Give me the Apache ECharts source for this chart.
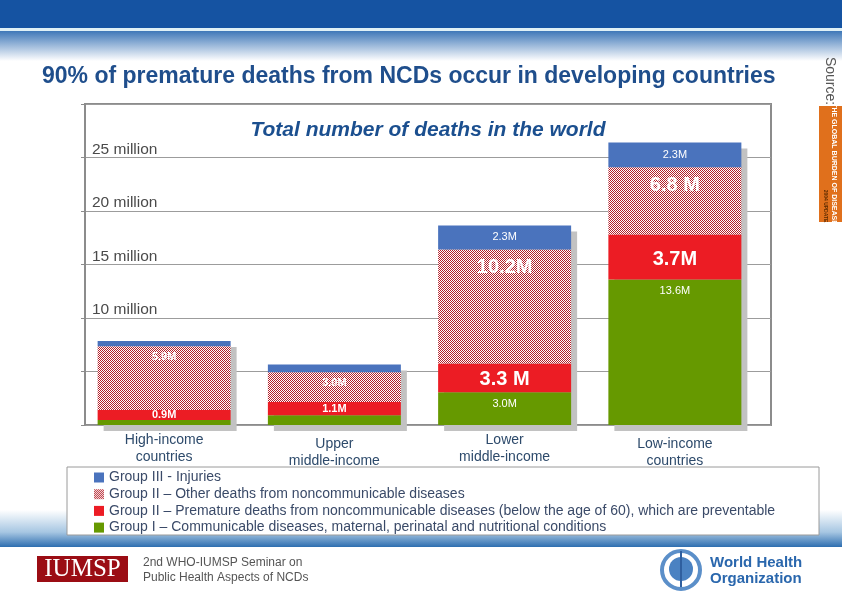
<!DOCTYPE html>
<html><head><meta charset="utf-8">
<script src="https://cdn.jsdelivr.net/npm/echarts@6/dist/echarts.min.js"></script>
<style>html,body{margin:0;padding:0;background:#fff}#c{width:842px;height:595px}</style>
</head><body><div id="c"></div>
<script>
// ---- data ----
const categories = ['High-income\ncountries', 'Upper\nmiddle-income', 'Lower\nmiddle-income', 'Low-income\ncountries'];
const seriesNames = [
  'Group I – Communicable diseases, maternal, perinatal and nutritional conditions',
  'Group II – Premature deaths from noncommunicable diseases (below the age of 60), which are preventable',
  'Group II – Other deaths from noncommunicable diseases',
  'Group III - Injuries'
];
// values in millions (bar segment heights as drawn)
const groupI = [0.47, 0.9, 3.05, 13.6];
const groupIIPremature = [0.93, 1.24, 2.7, 4.2];
const groupIIOther = [5.97, 2.8, 10.66, 6.3];
const groupIII = [0.47, 0.72, 2.24, 2.3];
// printed segment labels
const labelsI = ['', '', '3.0M', '13.6M'];
const labelsIIPremature = ['0.9M', '1.1M', '3.3 M', '3.7M'];
const labelsIIOther = ['5.9M', '3.0M', '10.2M', '6.8 M'];
const labelsIII = ['', '', '2.3M', '2.3M'];
const yTicks = [10, 15, 20, 25];
const yTickSuffix = ' million';

// ---- chart ----
const FONT = '"Liberation Sans", Arial, sans-serif';
function hatch() {
  const c = document.createElement('canvas'); c.width = 2; c.height = 2;
  const g = c.getContext('2d');
  g.fillStyle = '#ffffff'; g.fillRect(0, 0, 2, 2);
  g.fillStyle = '#b31e28'; g.fillRect(0, 0, 1, 1); g.fillRect(1, 1, 1, 1);
  return c;
}
const hatchColor = { image: hatch(), repeat: 'repeat' };
const totals = categories.map((_, i) => groupI[i] + groupIIPremature[i] + groupIIOther[i] + groupIII[i]);

function items(vals, labels, style) {
  return vals.map((v, i) => {
    const s = style(i);
    return { value: v, label: Object.assign({ show: labels[i] !== '', formatter: labels[i], color: '#fff', fontFamily: FONT }, s) };
  });
}

const chart = echarts.init(document.getElementById('c'), null, { renderer: 'canvas' });
const option = {
  animation: false,
  grid: [
    { left: 85, top: 104, width: 686, height: 321, show: true, borderColor: '#8c8c8c', borderWidth: 2, backgroundColor: 'transparent' },
    { left: 79, top: 104, width: 681, height: 321 },
    { left: 85, top: 110, width: 681, height: 321 }
  ],
  xAxis: [
    { gridIndex: 0, type: 'value', min: 0, max: 1, show: false },
    { gridIndex: 1, type: 'category', data: categories.map((c, i) => ({ value: c, textStyle: { padding: [(i === 1 || i === 3) ? 4 : 0, 0, 0, 0] } })),
      axisLine: { show: false }, axisTick: { show: false },
      axisLabel: { margin: 7, fontSize: 14, lineHeight: 17, color: '#2d4a6b', fontFamily: FONT } },
    { gridIndex: 2, type: 'category', data: categories, show: false }
  ],
  yAxis: [
    { gridIndex: 0, type: 'value', min: 0, max: 30, interval: 5,
      axisLine: { show: true, lineStyle: { color: '#8c8c8c', width: 2 } },
      axisTick: { show: true, length: 4, lineStyle: { color: '#8c8c8c', width: 1 } },
      splitLine: { show: true, lineStyle: { color: '#9c9c9c', width: 1 } },
      axisLabel: { inside: true, margin: 7, verticalAlign: 'bottom', fontSize: 15.5, color: '#4a4a4a', fontFamily: FONT,
        formatter: v => yTicks.indexOf(v) >= 0 ? v + yTickSuffix : '' } },
    { gridIndex: 1, type: 'value', min: 0, max: 30, show: false },
    { gridIndex: 2, type: 'value', min: 0, max: 30, show: false }
  ],
  legend: {
    orient: 'vertical', left: 89, top: 465, itemWidth: 10, itemHeight: 10, itemGap: 1.7, icon: 'rect',
    data: [seriesNames[3], seriesNames[2], seriesNames[1], seriesNames[0]],
    textStyle: { fontSize: 14, lineHeight: 15, color: '#3a4a68', fontFamily: FONT },
    selectedMode: false
  },
  series: [
    { type: 'bar', xAxisIndex: 2, yAxisIndex: 2, data: totals, barWidth: 133, itemStyle: { color: '#c2c2c2' }, silent: true, z: 2 },
    { name: seriesNames[0], type: 'bar', stack: 'a', xAxisIndex: 1, yAxisIndex: 1, barWidth: 133, z: 3,
      itemStyle: { color: '#669900' },
      data: items(groupI, labelsI, () => ({ position: 'insideTop', distance: 6, fontSize: 11 })) },
    { name: seriesNames[1], type: 'bar', stack: 'a', xAxisIndex: 1, yAxisIndex: 1, barWidth: 133, z: 3,
      itemStyle: { color: '#ec1c24' },
      data: items(groupIIPremature, labelsIIPremature, i => i < 2
        ? { position: 'inside', fontSize: 11, fontWeight: 'bold', offset: [0, 0] }
        : { position: 'inside', fontSize: 20, fontWeight: 'bold', offset: [0, 2] }) },
    { name: seriesNames[2], type: 'bar', stack: 'a', xAxisIndex: 1, yAxisIndex: 1, barWidth: 133, z: 3,
      itemStyle: { color: hatchColor },
      data: items(groupIIOther, labelsIIOther, i => i < 2
        ? { position: 'insideTop', distance: 5, fontSize: 11, fontWeight: 'bold' }
        : { position: 'insideTop', distance: 8, fontSize: 20, fontWeight: 'bold' }) },
    { name: seriesNames[3], type: 'bar', stack: 'a', xAxisIndex: 1, yAxisIndex: 1, barWidth: 133, z: 3,
      itemStyle: { color: '#4a73bd' },
      data: items(groupIII, labelsIII, () => ({ position: 'inside', fontSize: 11 })) }
  ],
  graphic: [
    // header
    { type: 'rect', shape: { x: 0, y: 0, width: 842, height: 28 }, style: { fill: '#1553a2' }, z: 0 },
    { type: 'rect', shape: { x: 0, y: 28, width: 842, height: 3 }, style: { fill: '#dff0f6' }, z: 0 },
    { type: 'rect', shape: { x: 0, y: 31, width: 842, height: 30 }, z: 0,
      style: { fill: new echarts.graphic.LinearGradient(0, 0, 0, 1, [{ offset: 0, color: '#3f78b8' }, { offset: 1, color: '#ffffff' }]) } },
    { type: 'text', x: 42, y: 77, z: 5, style: { text: '90% of premature deaths from NCDs occur in developing countries',
      font: 'bold 23px ' + FONT, fill: '#1f4e8c', verticalAlign: 'middle' } },
    { type: 'text', x: 428, y: 130, z: 5, style: { text: 'Total number of deaths in the world',
      font: 'italic bold 21px ' + FONT, fill: '#1b4f8f', align: 'center', verticalAlign: 'middle' } },
    // source
    { type: 'text', x: 830, y: 81, rotation: -Math.PI / 2, z: 5, style: { text: 'Source:', font: '14px ' + FONT, fill: '#555', align: 'center', verticalAlign: 'middle' } },
    { type: 'rect', shape: { x: 819, y: 106, width: 23, height: 116 }, style: { fill: '#e0701c' }, z: 5 },
    { type: 'text', x: 834, y: 164, rotation: -Math.PI / 2, z: 6, style: { text: 'THE GLOBAL BURDEN OF DISEASE', font: 'bold 7px ' + FONT, fill: '#fff', align: 'center', verticalAlign: 'middle' } },
    { type: 'text', x: 825, y: 206, rotation: -Math.PI / 2, z: 6, style: { text: '2004 UPDATE', font: 'bold 5px ' + FONT, fill: '#5a2a00', align: 'center', verticalAlign: 'middle' } },
    // footer
    { type: 'rect', shape: { x: 0, y: 510, width: 842, height: 37 }, z: 0,
      style: { fill: new echarts.graphic.LinearGradient(0, 0, 0, 1, [{ offset: 0, color: '#ffffff' }, { offset: 0.6, color: '#a6c6e2' }, { offset: 1, color: '#2e6eb0' }]) } },
    { type: 'rect', shape: { x: 67, y: 467, width: 752, height: 68 }, style: { fill: '#fff', stroke: '#9a9a9a', lineWidth: 1 }, z: 1 },
    { type: 'rect', shape: { x: 37, y: 556, width: 91, height: 26 }, style: { fill: '#9b0d14' }, z: 5 },
    { type: 'text', x: 82.5, y: 569.5, z: 6, style: { text: 'IUMSP', font: '25px "Liberation Serif", serif', fill: '#fff', align: 'center', verticalAlign: 'middle' } },
    { type: 'text', x: 143, y: 563, z: 5, style: { text: '2nd WHO-IUMSP Seminar on', font: '12px ' + FONT, fill: '#555', verticalAlign: 'middle' } },
    { type: 'text', x: 143, y: 578, z: 5, style: { text: 'Public Health Aspects of NCDs', font: '12px ' + FONT, fill: '#555', verticalAlign: 'middle' } },
    { type: 'circle', shape: { cx: 681, cy: 570, r: 19 }, style: { fill: 'none', stroke: '#5b8fc9', lineWidth: 4 }, z: 5 },
    { type: 'circle', shape: { cx: 681, cy: 569, r: 12 }, style: { fill: '#4a82c2' }, z: 5 },
    { type: 'rect', shape: { x: 680, y: 551, width: 2, height: 36 }, style: { fill: '#2f5f9f' }, z: 6 },
    { type: 'text', x: 710, y: 563, z: 5, style: { text: 'World Health', font: 'bold 15px ' + FONT, fill: '#2a67ad', verticalAlign: 'middle' } },
    { type: 'text', x: 710, y: 579, z: 5, style: { text: 'Organization', font: 'bold 15px ' + FONT, fill: '#2a67ad', verticalAlign: 'middle' } }
  ]
};
chart.setOption(option);
</script></body></html>
